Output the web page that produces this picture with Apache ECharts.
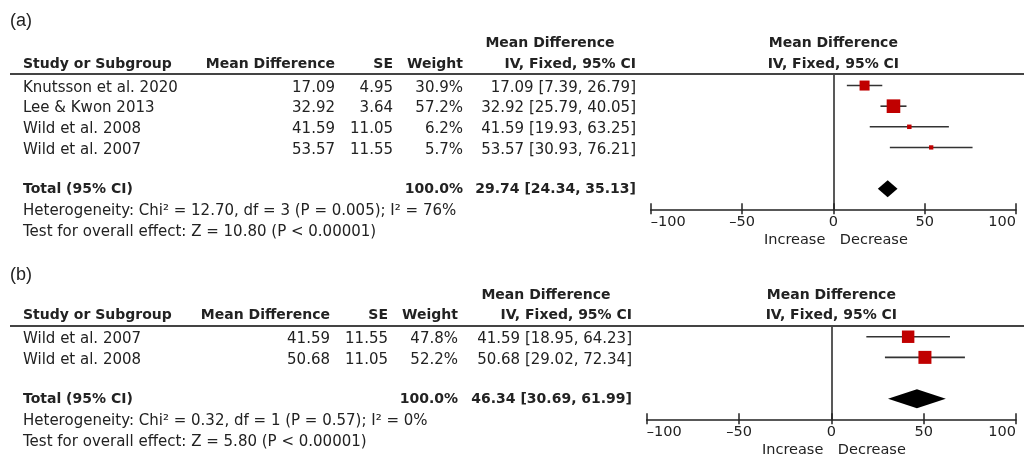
<!DOCTYPE html>
<html>
<head>
<meta charset="utf-8">
<script src="https://cdn.jsdelivr.net/npm/echarts@6/dist/echarts.min.js"></script>
<style>
  html, body { margin: 0; padding: 0; background: #fff; }
  #main { width: 1024px; height: 457px; }
</style>
</head>
<body>
<div id="main"></div>
<script>
// ---- Panel (a) ----
const studiesA = ['Knutsson et al. 2020', 'Lee & Kwon 2013', 'Wild et al. 2008', 'Wild et al. 2007'];
const meanDiffA = [17.09, 32.92, 41.59, 53.57];
const seA = [4.95, 3.64, 11.05, 11.55];
const weightA = [30.9, 57.2, 6.2, 5.7];
const ciLowA = [7.39, 25.79, 19.93, 30.93];
const ciHighA = [26.79, 40.05, 63.25, 76.21];
const totalA = [29.74, 24.34, 35.13];          // estimate, lower, upper
const heteroA = 'Heterogeneity: Chi² = 12.70, df = 3 (P = 0.005); I² = 76%';
const overallA = 'Test for overall effect: Z = 10.80 (P < 0.00001)';

// ---- Panel (b) ----
const studiesB = ['Wild et al. 2007', 'Wild et al. 2008'];
const meanDiffB = [41.59, 50.68];
const seB = [11.55, 11.05];
const weightB = [47.8, 52.2];
const ciLowB = [18.95, 29.02];
const ciHighB = [64.23, 72.34];
const totalB = [46.34, 30.69, 61.99];
const heteroB = 'Heterogeneity: Chi² = 0.32, df = 1 (P = 0.57); I² = 0%';
const overallB = 'Test for overall effect: Z = 5.80 (P < 0.00001)';

// ---- Shared axis ----
const xTicks = [-100, -50, 0, 50, 100];
const panelLabels = ['(a)', '(b)'];
const colHeaders = ['Study or Subgroup', 'Mean Difference', 'SE', 'Weight', 'Mean Difference', 'IV, Fixed, 95% CI'];
const totalLabel = 'Total (95% CI)';
const totalWeight = '100.0%';
const sideLabels = ['Increase', 'Decrease'];

const FONT = '"DejaVu Sans", Verdana, sans-serif';
const INK = '#222';
const RED = '#c00000';

const panels = [
  {
    studies: studiesA, md: meanDiffA, se: seA, w: weightA, lo: ciLowA, hi: ciHighA,
    total: totalA, hetero: heteroA, overall: overallA,
    grid: { left: 650.7, right: 8, top: 74, height: 135.3 }, yMin: -0.56,
    cols: { study: 23, md: 335, se: 393, weight: 463, ci: 636, ciHead: 550 },
    diamondHalf: 8.5
  },
  {
    studies: studiesB, md: meanDiffB, se: seB, w: weightB, lo: ciLowB, hi: ciHighB,
    total: totalB, hetero: heteroB, overall: overallB,
    grid: { left: 646.7, right: 8, top: 326, height: 93.3 }, yMin: -0.52,
    cols: { study: 23, md: 330, se: 388, weight: 458, ci: 632, ciHead: 546 },
    diamondHalf: 9.5
  }
];

function txt(x, y, s, align, bold, size) {
  return {
    type: 'text', x: x, y: y,
    style: {
      text: s, fill: INK, align: align, verticalAlign: 'middle',
      fontFamily: FONT, fontSize: size || (bold ? 14 : 15), fontWeight: bold ? 'bold' : 'normal'
    }
  };
}

function ciText(est, lo, hi) {
  return est.toFixed(2) + ' [' + lo.toFixed(2) + ', ' + hi.toFixed(2) + ']';
}

const grids = [], xAxes = [], yAxes = [], series = [];

panels.forEach(function (p, gi) {
  const n = p.studies.length;
  const totalRow = n + 1;
  const yMax = n + 2;
  grids.push(Object.assign({ containLabel: false, outerBoundsMode: 'none' }, p.grid));

  // labelled axis with upward ticks
  xAxes.push({
    type: 'value', gridIndex: gi, position: 'bottom', min: -100, max: 100, interval: 50,
    axisLine: { show: true, onZero: false, lineStyle: { color: INK, width: 1.5 } },
    axisTick: { show: true, inside: true, length: 6, lineStyle: { color: INK, width: 1.5 } },
    axisLabel: {
      show: true, margin: 5, color: INK, fontFamily: FONT, fontSize: 14.5,
      alignMinLabel: 'left', alignMaxLabel: 'right',
      formatter: function (v) { return xTicks.indexOf(v) < 0 ? '' : (v < 0 ? '\u2013' + Math.abs(v) : String(v)); }
    },
    splitLine: { show: false }
  });
  // companion axis carrying the downward half of each tick
  xAxes.push({
    type: 'value', gridIndex: gi, position: 'bottom', min: -100, max: 100, interval: 50,
    axisLine: { show: false, onZero: false },
    axisTick: { show: true, inside: false, length: 5, lineStyle: { color: INK, width: 1.5 } },
    axisLabel: { show: false }, splitLine: { show: false }
  });
  yAxes.push({
    type: 'value', gridIndex: gi, inverse: true, min: p.yMin, max: yMax,
    axisLine: { show: true, onZero: true, lineStyle: { color: INK, width: 1.5 } },
    axisTick: { show: false }, axisLabel: { show: false }, splitLine: { show: false }
  });
  const xa = gi * 2, ya = gi;

  // study estimates: CI whisker + weight-scaled square
  series.push({
    type: 'custom', xAxisIndex: xa, yAxisIndex: ya, z: 3,
    data: p.md.map(function (m, i) { return [m, i, p.lo[i], p.hi[i], p.w[i]]; }),
    encode: { x: 0, y: 1 },
    renderItem: function (params, api) {
      const c = api.coord([api.value(0), api.value(1)]);
      const a = api.coord([api.value(2), api.value(1)]);
      const b = api.coord([api.value(3), api.value(1)]);
      const s = 1.8 * Math.sqrt(api.value(4));
      return {
        type: 'group', children: [
          { type: 'line', shape: { x1: a[0], y1: a[1], x2: b[0], y2: b[1] }, style: { stroke: '#333', lineWidth: 1.6 } },
          { type: 'rect', shape: { x: c[0] - s / 2, y: c[1] - s / 2, width: s, height: s }, style: { fill: RED } }
        ]
      };
    }
  });

  // pooled estimate diamond
  series.push({
    type: 'custom', xAxisIndex: xa, yAxisIndex: ya, z: 3,
    data: [[p.total[0], totalRow, p.total[1], p.total[2]]],
    encode: { x: 0, y: 1 },
    renderItem: function (params, api) {
      const c = api.coord([api.value(0), api.value(1)]);
      const l = api.coord([api.value(2), api.value(1)]);
      const r = api.coord([api.value(3), api.value(1)]);
      const h = p.diamondHalf;
      return {
        type: 'polygon',
        shape: { points: [[l[0], c[1]], [c[0], c[1] - h], [r[0], c[1]], [c[0], c[1] + h]] },
        style: { fill: '#000' }
      };
    }
  });

  // table text, placed on the same row scale
  const rows = [];
  rows.push({ y: -2, kind: 'head1' });
  rows.push({ y: -1, kind: 'head2' });
  p.studies.forEach(function (s, i) { rows.push({ y: i, kind: 'study', i: i }); });
  rows.push({ y: totalRow, kind: 'total' });
  rows.push({ y: n + 2, kind: 'hetero' });
  rows.push({ y: n + 3, kind: 'overall' });
  rows.push({ y: yMax, kind: 'scale' });

  const C = p.cols;
  series.push({
    type: 'custom', xAxisIndex: xa, yAxisIndex: ya, z: 2, silent: true,
    data: rows.map(function (r) { return [0, r.y]; }),
    encode: { x: 0, y: 1 },
    renderItem: function (params, api) {
      const r = rows[params.dataIndex];
      const pt = api.coord([0, r.y]);
      const zx = pt[0], yy = pt[1];
      const kids = [];
      if (r.kind === 'head1') {
        kids.push(txt(C.ciHead, yy - 0.5, colHeaders[4], 'center', true));
        kids.push(txt(zx, yy - 0.5, colHeaders[4], 'center', true));
      } else if (r.kind === 'head2') {
        const y = yy - 0.5;
        kids.push(txt(C.study, y, colHeaders[0], 'left', true));
        kids.push(txt(C.md, y, colHeaders[1], 'right', true));
        kids.push(txt(C.se, y, colHeaders[2], 'right', true));
        kids.push(txt(C.weight, y, colHeaders[3], 'right', true));
        kids.push(txt(C.ci, y, colHeaders[5], 'right', true));
        kids.push(txt(zx, y, colHeaders[5], 'center', true));
        const ry = api.coord([0, p.yMin])[1];
        kids.push({ type: 'line', shape: { x1: 10, y1: ry, x2: 1024, y2: ry }, style: { stroke: '#444', lineWidth: 2 } });
      } else if (r.kind === 'study') {
        const i = r.i, y = yy + 2.3;
        kids.push(txt(C.study, y, p.studies[i], 'left', false));
        kids.push(txt(C.md, y, p.md[i].toFixed(2), 'right', false));
        kids.push(txt(C.se, y, p.se[i].toFixed(2), 'right', false));
        kids.push(txt(C.weight, y, p.w[i].toFixed(1) + '%', 'right', false));
        kids.push(txt(C.ci, y, ciText(p.md[i], p.lo[i], p.hi[i]), 'right', false));
      } else if (r.kind === 'total') {
        const y = yy + 0.8;
        kids.push(txt(C.study, y, totalLabel, 'left', true));
        kids.push(txt(C.weight, y, totalWeight, 'right', true));
        kids.push(txt(C.ci, y, ciText(p.total[0], p.total[1], p.total[2]), 'right', true));
      } else if (r.kind === 'hetero') {
        kids.push(txt(C.study, yy + 1.9, p.hetero, 'left', false));
      } else if (r.kind === 'overall') {
        kids.push(txt(C.study, yy + 2.6, p.overall, 'left', false));
      } else if (r.kind === 'scale') {
        kids.push(txt(zx - 8, yy + 31.4, sideLabels[0], 'right', false, 14.5));
        kids.push(txt(zx + 6.5, yy + 31.4, sideLabels[1], 'left', false, 14.5));
      }
      return { type: 'group', children: kids };
    }
  });
});

const chart = echarts.init(document.getElementById('main'), null, { renderer: 'canvas' });
chart.setOption({
  backgroundColor: '#fff',
  animation: false,
  grid: grids,
  xAxis: xAxes,
  yAxis: yAxes,
  series: series,
  graphic: [
    { type: 'text', left: 10, top: 12, style: { text: panelLabels[0], fill: INK, fontFamily: 'Liberation Sans, Arial, sans-serif', fontSize: 18 } },
    { type: 'text', left: 10, top: 266, style: { text: panelLabels[1], fill: INK, fontFamily: 'Liberation Sans, Arial, sans-serif', fontSize: 18 } }
  ]
});
</script>
</body>
</html>
